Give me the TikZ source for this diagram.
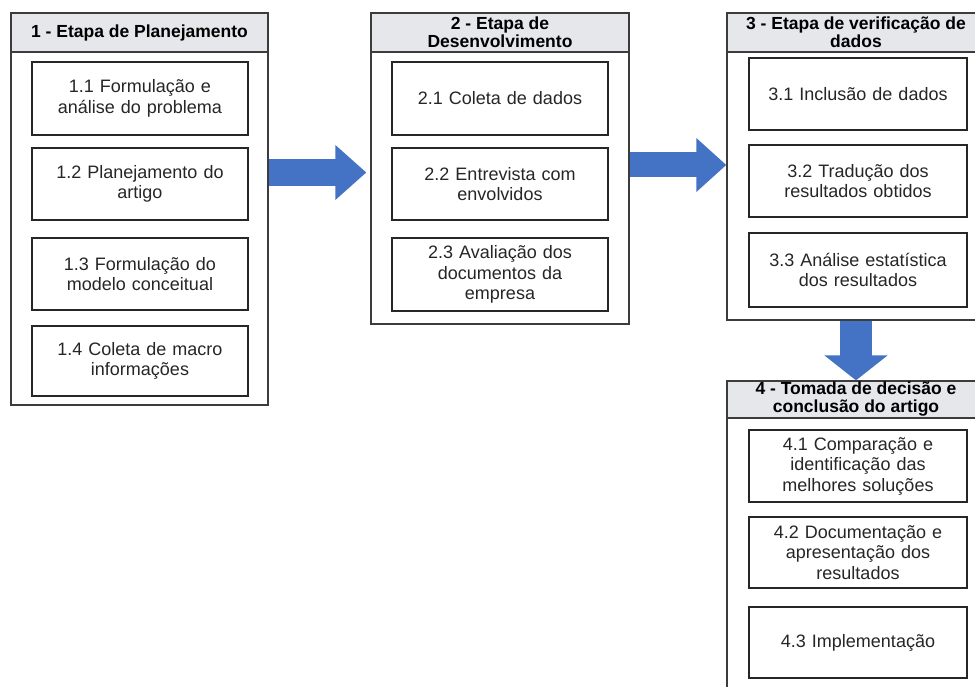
\documentclass[tikz,border=0pt]{standalone}
\usepackage{fontspec}
\setmainfont{Liberation Sans}
\usepackage{tikz}
\usetikzlibrary{arrows.meta}

\definecolor{headgray}{RGB}{230,231,235}
\definecolor{framegray}{RGB}{60,60,60}
\definecolor{arrowblue}{RGB}{68,114,196}
\definecolor{textgray}{RGB}{38,38,38}

\tikzset{
    panel/.style={draw=framegray, line width=1.3pt, fill=white, inner sep=0pt},
    panelhead/.style={draw=framegray, line width=1.3pt, fill=headgray, inner sep=0pt,
        align=center, font=\fontsize{17.5}{18}\selectfont\bfseries},
    itembox/.style={draw=black!85, line width=1.2pt, fill=white, inner sep=0pt,
        align=center, text=textgray, font=\fontsize{18}{20.5}\selectfont},
    flowarrow/.style={draw=arrowblue, line cap=butt}
}

\begin{document}
\begin{tikzpicture}[x=1pt, y=-1pt]
        \useasboundingbox (0,0) rectangle (975,687);
        \clip (0,0) rectangle (975,687);

        % Stage frames
        \node[panel, minimum width=257, minimum height=392] (plan) at (139.5, 209) {};
        \node[panel, minimum width=258, minimum height=311] (dev) at (500, 168.5) {};
        \node[panel, minimum width=258, minimum height=307] (verif) at (856, 166.5) {};
        \node[panel, minimum width=258, minimum height=329] (decis) at (856, 545.5) {};

        % Headers
        \node[panelhead, minimum width=257, minimum height=39] (planhead) at (139.5, 32.5) {1 - Etapa de Planejamento};
        \node[panelhead, minimum width=258, minimum height=39] (devhead) at (500, 32.5) {2 - Etapa de\\Desenvolvimento};
        \node[panelhead, minimum width=258, minimum height=39] (verifhead) at (856, 32.5) {3 - Etapa de verificação de\\dados};
        \node[panelhead, minimum width=258, minimum height=37] (decishead) at (856, 399.5) {4 - Tomada de decisão e\\conclusão do artigo};

        % Steps
        \node[itembox, text width=216, minimum height=73] (p1) at (140, 98.5) {1.1 Formulação e\\análise do problema};
        \node[itembox, text width=216, minimum height=72] (p2) at (140, 184) {1.2 Planejamento do\\artigo};
        \node[itembox, text width=216, minimum height=72] (p3) at (140, 274) {1.3 Formulação do\\modelo conceitual};
        \node[itembox, text width=216, minimum height=70] (p4) at (140, 361) {1.4 Coleta de macro\\informações};

        \node[itembox, text width=216, minimum height=73] (d1) at (500, 98.5) {2.1 Coleta de dados};
        \node[itembox, text width=216, minimum height=72] (d2) at (500, 184) {2.2 Entrevista com\\envolvidos};
        \node[itembox, text width=216, minimum height=73] (d3) at (500, 274.5) {2.3 Avaliação dos\\documentos da\\empresa};

        \node[itembox, text width=218, minimum height=72] (v1) at (858, 94) {3.1 Inclusão de dados};
        \node[itembox, text width=218, minimum height=72] (v2) at (858, 181) {3.2 Tradução dos\\resultados obtidos};
        \node[itembox, text width=218, minimum height=74] (v3) at (858, 270) {3.3 Análise estatística\\dos resultados};

        \node[itembox, text width=218, minimum height=72] (c1) at (858, 466) {4.1 Comparação e\\identificação das\\melhores soluções};
        \node[itembox, text width=218, minimum height=71] (c2) at (858, 552.5) {4.2 Documentação e\\apresentação dos\\resultados};
        \node[itembox, text width=218, minimum height=71] (c3) at (858, 642.5) {4.3 Implementação};

        % Arrows
        \draw[flowarrow, line width=27pt, -{Triangle[length=31pt, width=53pt]}, shorten >=4pt]
            ([yshift=36.5pt]plan.east) -- ([yshift=36.5pt]plan.east -| dev.west);
        \draw[flowarrow, line width=25pt, -{Triangle[length=30pt, width=52pt]}]
            ([yshift=3.5pt]dev.east) -- ([yshift=3.5pt]dev.east -| verif.west);
        \draw[flowarrow, line width=32pt, -{Triangle[length=25pt, width=62pt]}]
            (verif.south) -- (decis.north);
    \end{tikzpicture}
\end{document}
